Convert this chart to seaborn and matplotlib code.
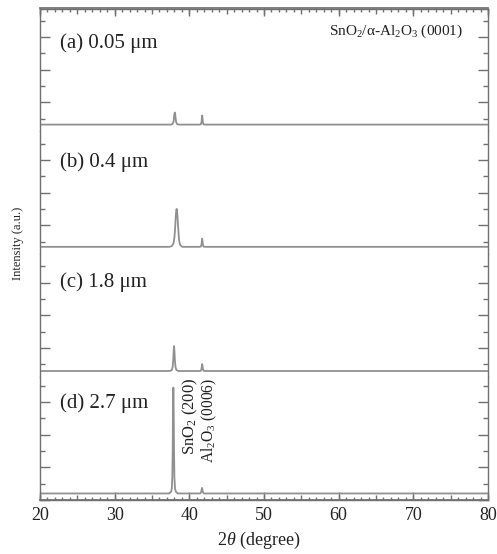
import matplotlib
matplotlib.use("Agg")
import matplotlib.pyplot as plt
import seaborn as sns
import pandas as pd
from matplotlib.ticker import MultipleLocator, NullFormatter

sns.set_theme(style="ticks")
plt.rcParams["font.family"] = ["Liberation Serif", "DejaVu Serif"]
plt.rcParams["mathtext.fontset"] = "custom"
plt.rcParams["mathtext.rm"] = "Liberation Serif"
plt.rcParams["mathtext.it"] = "Liberation Serif:italic"
plt.rcParams["mathtext.bf"] = "Liberation Serif:bold"

# ---------------- data ----------------
panel_labels = ["(a) 0.05 μm", "(b) 0.4 μm", "(c) 1.8 μm", "(d) 2.7 μm"]

x_a = [20, 37.55, 37.75, 37.87, 37.94, 37.99, 38.05, 38.11, 38.16, 38.23, 38.35, 38.55,
       41.35, 41.55, 41.63, 41.68, 41.72, 41.76, 41.81, 41.89, 42.10, 80]
y_a = [0.32, 0.32, 0.34, 0.40, 0.52, 0.63, 0.69, 0.63, 0.52, 0.40, 0.34, 0.32,
       0.32, 0.33, 0.40, 0.52, 0.60, 0.52, 0.40, 0.33, 0.32, 0.32]

x_b = [20, 37.30, 37.65, 37.88, 38.00, 38.10, 38.18, 38.25, 38.30, 38.36, 38.44, 38.53,
       38.62, 38.76, 39.05, 41.35, 41.55, 41.63, 41.68, 41.72, 41.76, 41.81, 41.89, 42.10, 80]
y_b = [0.34, 0.34, 0.36, 0.45, 0.62, 0.92, 1.26, 1.45, 1.50, 1.44, 1.18, 0.84,
       0.56, 0.40, 0.34, 0.34, 0.35, 0.42, 0.52, 0.59, 0.52, 0.42, 0.35, 0.34, 0.34]

x_c = [20, 37.40, 37.65, 37.76, 37.84, 37.90, 37.95, 38.01, 38.07, 38.15, 38.27, 38.55,
       41.35, 41.55, 41.63, 41.68, 41.72, 41.76, 41.81, 41.89, 42.10, 80]
y_c = [0.30, 0.30, 0.33, 0.42, 0.62, 0.90, 1.06, 0.90, 0.62, 0.42, 0.33, 0.30,
       0.30, 0.31, 0.37, 0.46, 0.51, 0.46, 0.37, 0.31, 0.30, 0.30]

x_d = [20, 37.30, 37.55, 37.65, 37.72, 37.77, 37.81, 37.84, 37.86, 37.88, 37.91, 37.95,
       38.00, 38.08, 38.20, 38.45, 41.45, 41.60, 41.66, 41.70, 41.74, 41.80, 41.95, 80]
y_d = [0.20, 0.20, 0.25, 0.35, 0.70, 1.50, 2.60, 3.30, 3.44, 3.30, 2.60, 1.50,
       0.70, 0.35, 0.25, 0.20, 0.20, 0.25, 0.33, 0.37, 0.33, 0.25, 0.20, 0.20]

xs = [x_a, x_b, x_c, x_d]
ys = [y_a, y_b, y_c, y_d]
x_tick_labels = ["20", "30", "40", "50", "60", "70", "80"]
x_major = [20, 30, 40, 50, 60, 70, 80]
title_text = "SnO$_2$/α-Al$_2$O$_3$ (0001)"
peak_names = ["SnO$_2$ (200)", "Al$_2$O$_3$ (0006)"]
peak_label_x = [40.15, 42.75]
peak_label_size = [12, 11.2]

# ---------------- layout ----------------
W, H = 497, 554
fig = plt.figure(figsize=(W / 100, H / 100), dpi=100)
left, right = 40 / W, 488 / W
top, bottom = 1 - 8.5 / H, 1 - 500 / H
gs = fig.add_gridspec(4, 1, left=left, right=right, top=top, bottom=bottom, hspace=0)

spine_col = "#707070"
line_col = "#909090"
text_col = "#222222"
ylims = [(0.113, 3.873), (0.113, 3.873), (0.113, 3.873), (0.0, 3.76)]
label_y = [0.72, 0.75, 0.77, 0.79]

axes = []
for i in range(4):
    ax = fig.add_subplot(gs[i])
    axes.append(ax)
    df = pd.DataFrame({"2theta": xs[i], "I": ys[i]})
    sns.lineplot(data=df, x="2theta", y="I", ax=ax, color=line_col, lw=1.3, sort=False)
    ax.set_xlim(20, 80)
    ax.set_ylim(*ylims[i])
    ax.set_xlabel("")
    ax.set_ylabel("")
    for s in ax.spines.values():
        s.set_color(spine_col)
        s.set_linewidth(1.0)
    ax.spines["top"].set_visible(i == 0)
    ax.spines["bottom"].set_visible(i == 3)
    ax.yaxis.set_major_locator(MultipleLocator(1))
    ax.yaxis.set_minor_locator(MultipleLocator(0.5))
    ax.yaxis.set_major_formatter(NullFormatter())
    ax.tick_params(axis="y", which="major", direction="in", left=True, right=True,
                   length=7, width=1.0, color=spine_col, labelleft=False)
    ax.tick_params(axis="y", which="minor", direction="in", left=True, right=True,
                   length=3.6, width=1.0, color=spine_col)
    ax.xaxis.set_major_locator(MultipleLocator(5))
    ax.xaxis.set_minor_locator(MultipleLocator(1))
    ax.xaxis.set_major_formatter(NullFormatter())
    ax.tick_params(axis="x", which="both", direction="in", bottom=(i == 3), top=(i == 0),
                   labelbottom=False, color=spine_col, width=1.0)
    ax.tick_params(axis="x", which="major", length=3.6)
    ax.tick_params(axis="x", which="minor", length=2.4)
    ax.text(0.0446, label_y[i], panel_labels[i], transform=ax.transAxes, ha="left",
            va="center", fontsize=15, color=text_col)

# 10-degree ticks (longest, with labels on the bottom)
sec_b = axes[3].secondary_xaxis("bottom")
sec_b.set_xticks(x_major, x_tick_labels)
sec_b.tick_params(direction="in", length=5.5, width=1.0, color=spine_col,
                  labelsize=13, labelcolor=text_col, pad=5)
sec_b.spines["bottom"].set_color(spine_col)
sec_t = axes[0].secondary_xaxis("top")
sec_t.set_xticks(x_major, [""] * len(x_major))
sec_t.tick_params(direction="in", length=5.5, width=1.0, color=spine_col)
sec_t.spines["top"].set_color(spine_col)

axes[0].text(0.944, 0.817, title_text, transform=axes[0].transAxes, ha="right",
             va="center", fontsize=11, color=text_col)

trans = axes[3].get_xaxis_transform()
for name, xp, fs in zip(peak_names, peak_label_x, peak_label_size):
    axes[3].text(xp, 0.995, name, transform=trans, rotation=90, ha="center", va="top",
                 fontsize=fs, color=text_col)

fig.text((40 + 488) / 2 / W - 0.01, 1 - 540 / H, "2$\\theta$ (degree)", ha="center",
         va="center", fontsize=13, color=text_col)
fig.text(18.5 / W, 1 - 243 / H, "Intensity (a.u.)", rotation=90, ha="center",
         va="center", fontsize=9, color=text_col)

fig.savefig("out.png", dpi=100, facecolor="white")
